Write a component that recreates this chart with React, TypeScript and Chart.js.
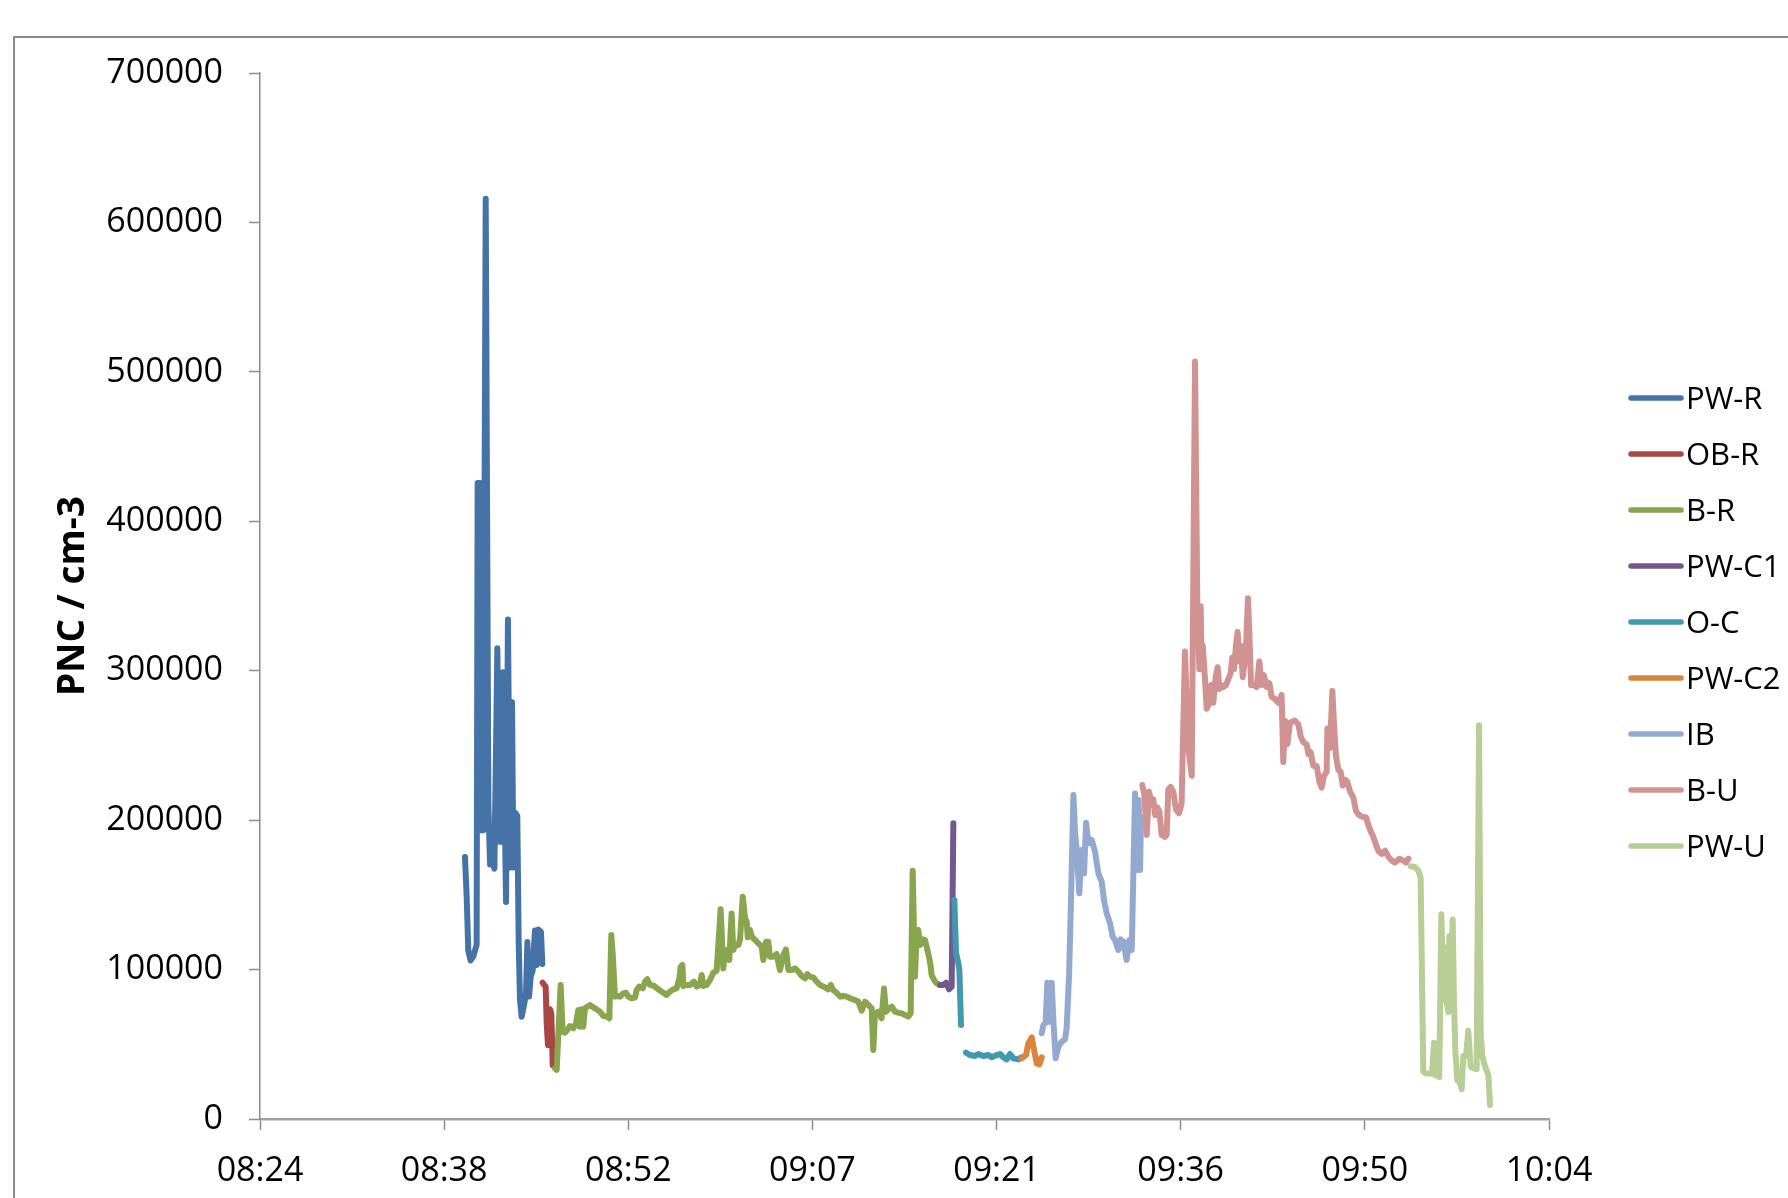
import { useEffect, useRef } from "react";
import { Chart, registerables } from "chart.js";

Chart.register(...registerables);

// Particle number concentration along the route; times are minutes after 08:00.
const SERIES_NAMES = ["PW-R", "OB-R", "B-R", "PW-C1", "O-C", "PW-C2", "IB", "B-U", "PW-U"];
const SERIES_COLORS = ["#4572A7", "#AA4643", "#89A54E", "#71588F", "#4198AF", "#DB843D", "#93A9CF", "#D19392", "#B9CD96"];

const X_TICK_MINUTES = [24, 38.4, 52.8, 67.2, 81.6, 96, 110.4, 124.8];
const X_TICK_LABELS = ["08:24", "08:38", "08:52", "09:07", "09:21", "09:36", "09:50", "10:04"];
const Y_MAX = 700000;
const Y_STEP = 100000;

const PW_R_T = [40.03, 40.16, 40.29, 40.47, 40.68, 40.94, 41.02, 41.2, 41.28, 41.46, 41.65, 41.86, 41.99, 42.17, 42.33, 42.56, 42.72, 42.85, 42.98, 43.24, 43.39, 43.55, 43.71, 43.81, 43.97, 44.12, 44.23, 44.33, 44.46, 44.64, 44.8, 44.91, 45.04, 45.17, 45.32, 45.5, 45.63, 45.77, 45.97, 46.08];
const PW_R_V = [175300, 149100, 112600, 106100, 108800, 116500, 425700, 425700, 193300, 193300, 615800, 210600, 170300, 172200, 167600, 315000, 185600, 185600, 298900, 145300, 334300, 168300, 278900, 168300, 204800, 202900, 118400, 80000, 68500, 76200, 83800, 118400, 81900, 95300, 99200, 126100, 103000, 126800, 125300, 103800];

const OB_R_T = [46.1, 46.34, 46.42, 46.52, 46.68, 46.78, 46.89];
const OB_R_V = [91200, 88500, 64000, 49500, 73400, 70700, 36100];

const B_R_T = [47.07, 47.2, 47.51, 47.67, 47.85, 48.03, 48.24, 48.5, 48.71, 48.89, 49.02, 49.15, 49.28, 49.41, 49.68, 49.81, 50.07, 50.33, 50.59, 50.85, 51.11, 51.32, 51.47, 51.58, 51.76, 51.94, 52.15, 52.41, 52.62, 52.8, 53.06, 53.32, 53.46, 53.66, 53.93, 54.11, 54.29, 54.5, 54.81, 55.15, 55.54, 55.8, 56.06, 56.32, 56.58, 56.79, 56.9, 57.03, 57.11, 57.37, 57.63, 57.94, 58.15, 58.41, 58.54, 58.67, 58.93, 59.19, 59.45, 59.71, 60.02, 60.23, 60.36, 60.57, 60.7, 60.88, 61.01, 61.17, 61.41, 61.54, 61.75, 61.93, 62.06, 62.14, 62.32, 62.45, 62.71, 62.97, 63.23, 63.36, 63.57, 63.75, 63.88, 64.14, 64.4, 64.66, 64.92, 65.13, 65.32, 65.58, 65.84, 66.1, 66.36, 66.62, 66.8, 67.01, 67.27, 67.53, 67.79, 68.18, 68.44, 68.63, 68.83, 69.09, 69.36, 69.62, 69.88, 70.14, 70.53, 70.79, 71.05, 71.31, 71.57, 71.83, 71.96, 72.09, 72.35, 72.61, 72.8, 72.95, 73.21, 73.4, 73.66, 73.92, 74.18, 74.44, 74.7, 74.88, 75.04, 75.22, 75.35, 75.48, 75.61, 75.82, 76.0, 76.19, 76.34, 76.45, 76.52, 76.71, 76.92, 77.18];
const B_R_V = [33900, 32800, 89700, 58400, 57800, 59600, 62200, 60700, 64000, 72900, 61800, 73400, 61800, 74100, 75600, 76300, 74700, 73400, 71800, 68900, 68500, 67400, 123100, 110900, 81900, 82300, 81900, 84100, 84500, 81900, 80800, 81200, 86300, 88600, 87400, 91900, 93500, 89700, 89000, 86800, 84500, 83000, 85200, 86800, 87400, 94100, 101900, 103100, 89000, 89700, 89700, 91900, 88600, 89700, 96400, 89000, 89700, 93000, 97900, 99300, 140300, 100800, 113100, 113100, 106400, 137600, 113100, 116400, 116400, 120200, 148800, 134300, 132100, 121600, 126500, 122000, 119800, 117600, 115300, 106400, 118700, 118700, 108600, 108600, 110400, 99700, 109700, 113500, 99700, 99700, 100800, 98600, 95700, 94100, 97000, 95200, 94800, 91900, 89700, 88100, 86800, 89700, 86300, 84500, 81900, 82300, 81900, 80800, 79600, 78500, 72500, 78500, 76300, 74100, 46200, 70700, 71800, 67400, 87400, 71800, 74100, 75200, 71800, 71100, 70700, 69600, 68500, 70700, 166200, 95200, 124200, 126500, 116400, 120200, 119800, 113100, 107500, 101900, 96400, 93000, 90800, 89700];

const PW_C1_T = [77.18, 77.44, 77.65, 77.88, 78.09, 78.22];
const PW_C1_V = [89700, 89700, 91200, 86800, 88600, 197900];

const O_C_T = [78.3, 78.43, 78.61, 78.69, 78.82, 79.0, 79.21, 79.52, 79.92, 80.18, 80.57, 80.96, 81.22, 81.61, 81.87, 82.13, 82.39, 82.65, 82.91, 83.3, 83.56];
const O_C_V = [146600, 110900, 104200, 99700, 62900, null, 44400, 42800, 42200, 43500, 42200, 42800, 41300, 42800, 43500, 41300, 39900, 43500, 40600, 39900, 41300];

const PW_C2_T = [83.56, 83.9, 84.09, 84.35, 84.53, 84.74, 84.95, 85.13];
const PW_C2_V = [40600, 42800, 50600, 54600, 46200, 37200, 36600, 41300];

const IB_T = [85.13, 85.26, 85.44, 85.57, 85.73, 85.91, 86.04, 86.22, 86.43, 86.69, 86.95, 87.08, 87.27, 87.42, 87.61, 87.74, 87.87, 88.07, 88.26, 88.44, 88.6, 88.78, 89.04, 89.3, 89.56, 89.82, 90.0, 90.21, 90.47, 90.68, 90.86, 91.12, 91.31, 91.51, 91.77, 91.98, 92.17, 92.43, 92.61, 92.71, 92.82, 92.9];
const IB_V = [57300, 62900, 64500, 91200, 65100, 91200, 66200, 40600, 48400, 51700, 53300, 60700, 96400, 146600, 216800, 191200, 180000, 151000, 180000, 164400, 198300, 184500, 186700, 178900, 164400, 158800, 146600, 137600, 131000, 122000, 119800, 113100, 120200, 118700, 106400, 119800, 113100, 217900, 166600, 213500, 166600, 202300];

const B_U_T = [93.0, 93.16, 93.34, 93.52, 93.68, 93.86, 94.01, 94.17, 94.33, 94.51, 94.77, 94.9, 95.03, 95.21, 95.42, 95.63, 95.87, 96.07, 96.33, 96.6, 96.86, 97.12, 97.3, 97.46, 97.56, 97.64, 97.72, 97.85, 98.03, 98.16, 98.37, 98.55, 98.73, 98.89, 99.02, 99.2, 99.33, 99.54, 99.72, 99.9, 100.04, 100.17, 100.32, 100.45, 100.58, 100.71, 100.85, 100.98, 101.11, 101.26, 101.37, 101.5, 101.73, 101.94, 102.15, 102.33, 102.51, 102.72, 102.93, 103.11, 103.37, 103.63, 103.89, 104.02, 104.16, 104.34, 104.55, 104.94, 105.2, 105.38, 105.59, 105.85, 105.98, 106.16, 106.37, 106.63, 106.84, 107.02, 107.21, 107.41, 107.47, 107.67, 107.86, 107.99, 108.14, 108.33, 108.51, 108.67, 108.85, 109.03, 109.24, 109.5, 109.71, 109.97, 110.28, 110.49, 110.67, 110.85, 111.06, 111.27, 111.45, 111.71, 111.98, 112.24, 112.5, 112.76, 113.1, 113.41, 113.62, 113.8];
const B_U_V = [223500, 216500, 190100, 219100, 212500, 213800, 203300, 208600, 205900, 190100, 188800, 190100, 220400, 222300, 219100, 207200, 204600, 211200, 312800, 248200, 229700, 506900, 343200, 301000, 343200, 301000, 316800, 301000, 274600, 277000, 290400, 278500, 295700, 302300, 287800, 290400, 289100, 290400, 294400, 298300, 308900, 301000, 316800, 326000, 306200, 316800, 295700, 304900, 316800, 348500, 324700, 290400, 290400, 289100, 306200, 290400, 297000, 289100, 291700, 282500, 281200, 278500, 283800, 238900, 266600, 250800, 265300, 266600, 264000, 256100, 252100, 250800, 244200, 245500, 236300, 236300, 225700, 221800, 229700, 232300, 261400, 248200, 286400, 264000, 242900, 233600, 232300, 223100, 227000, 225700, 219100, 215200, 205900, 203300, 202000, 202000, 196700, 192700, 188800, 183500, 179500, 177400, 179500, 175600, 172900, 171600, 174200, 172900, 171600, 174200];

const PW_U_T = [113.98, 114.32, 114.58, 114.76, 114.97, 115.23, 115.49, 115.65, 115.81, 115.91, 116.06, 116.22, 116.38, 116.54, 116.67, 116.8, 116.93, 117.01, 117.14, 117.27, 117.37, 117.48, 117.63, 117.84, 117.97, 118.1, 118.31, 118.49, 118.67, 118.88, 119.14, 119.33, 119.46, 119.59, 119.8, 120.06, 120.19];
const PW_U_V = [169100, 168600, 166300, 161600, 31600, 30400, 30400, 30400, 51100, 29300, 29300, 28100, 137000, 79600, 114800, 78500, 71500, 122300, 100700, 133500, 78500, 44500, 25800, 24600, 19900, 42200, 42200, 59000, 35200, 34000, 33300, 263500, 56200, 42200, 35200, 29300, 9400];

const SERIES_TIMES = [PW_R_T, OB_R_T, B_R_T, PW_C1_T, O_C_T, PW_C2_T, IB_T, B_U_T, PW_U_T];
const SERIES_VALUES = [PW_R_V, OB_R_V, B_R_V, PW_C1_V, O_C_V, PW_C2_V, IB_V, B_U_V, PW_U_V];

const FONT = "'Open Sans', 'DejaVu Sans', sans-serif";
const AXIS_GREY = "#8c8c8c";

// Outer chart-area frame (runs off the right and bottom of the page)
const framePlugin = {
  id: "outerFrame",
  beforeDraw(chart: any) {
    const ctx = chart.ctx;
    ctx.save();
    ctx.strokeStyle = "#8a8a8a";
    ctx.lineWidth = 2;
    ctx.beginPath();
    ctx.moveTo(14, chart.height + 5);
    ctx.lineTo(14, 37);
    ctx.lineTo(chart.width + 5, 37);
    ctx.stroke();
    ctx.restore();
  },
};

// Vertical legend on the right: a short line sample followed by the series name
const sideLegendPlugin = {
  id: "sideLegend",
  afterDraw(chart: any) {
    const ctx = chart.ctx;
    const size = 31;
    const x0 = chart.chartArea.right + 82;
    const lineLen = 50;
    const top = 398;
    const gap = 56;
    ctx.save();
    ctx.font = `${size}px ${FONT}`;
    ctx.textBaseline = "alphabetic";
    ctx.textAlign = "left";
    chart.data.datasets.forEach((ds: any, i: number) => {
      const y = top + i * gap;
      ctx.strokeStyle = ds.borderColor;
      ctx.lineWidth = 5.5;
      ctx.lineCap = "round";
      ctx.beginPath();
      ctx.moveTo(x0, y);
      ctx.lineTo(x0 + lineLen, y);
      ctx.stroke();
      ctx.fillStyle = "#000";
      ctx.fillText(ds.label, x0 + lineLen + 5, y + size * 0.357);
    });
    ctx.restore();
  },
};

export default function App() {
  const canvasRef = useRef<HTMLCanvasElement | null>(null);

  useEffect(() => {
    if (!canvasRef.current) return;
    const datasets = SERIES_NAMES.map((name, i) => ({
      label: name,
      data: SERIES_TIMES[i].map((t, j) => ({ x: t, y: SERIES_VALUES[i][j] })),
      borderColor: SERIES_COLORS[i],
      backgroundColor: SERIES_COLORS[i],
      borderWidth: 6,
      pointRadius: 0,
      tension: 0,
      spanGaps: false,
      fill: false,
      borderJoinStyle: "round" as const,
      borderCapStyle: "round" as const,
      order: SERIES_NAMES.length - i,
    }));

    const chart = new Chart(canvasRef.current, {
      type: "line",
      data: { datasets },
      options: {
        animation: false,
        responsive: false,
        events: [],
        layout: { padding: { top: 73, right: 239, bottom: 0, left: 0 } },
        plugins: {
          legend: { display: false },
          tooltip: { enabled: false },
        },
        scales: {
          x: {
            type: "linear",
            min: X_TICK_MINUTES[0],
            max: X_TICK_MINUTES[X_TICK_MINUTES.length - 1],
            afterBuildTicks: (axis: any) => {
              axis.ticks = X_TICK_MINUTES.map((v) => ({ value: v }));
            },
            afterFit: (scale: any) => {
              scale.height = 79;
            },
            grid: {
              drawOnChartArea: false,
              drawTicks: true,
              tickLength: 11,
              tickColor: AXIS_GREY,
              tickWidth: 1.5,
            },
            border: { display: true, color: "#a0a0a0", width: 2.5 },
            ticks: {
              autoSkip: false,
              maxRotation: 0,
              padding: 21,
              color: "#000",
              font: { family: FONT, size: 34 },
              callback: (_v: any, i: number) => X_TICK_LABELS[i],
            },
          },
          y: {
            min: 0,
            max: Y_MAX,
            afterFit: (scale: any) => {
              scale.width = 260;
            },
            grid: {
              drawOnChartArea: false,
              drawTicks: true,
              tickLength: 11,
              tickColor: AXIS_GREY,
              tickWidth: 1.5,
            },
            border: { display: true, color: AXIS_GREY, width: 1.5 },
            ticks: {
              stepSize: Y_STEP,
              padding: 26,
              color: "#000",
              font: { family: FONT, size: 34 },
              callback: (v: any) => String(v),
            },
            title: {
              display: true,
              text: "PNC / cm-3",
              color: "#000",
              font: { family: FONT, size: 37, weight: "bold" },
              padding: { top: 51, bottom: 0 },
            },
          },
        },
      },
      plugins: [framePlugin, sideLegendPlugin],
    });

    return () => chart.destroy();
  }, []);

  return (
    <div style={{ position: "absolute", left: 0, top: 0, width: 1788, height: 1198, background: "#fff" }}>
      <canvas ref={canvasRef} width={1788} height={1198} style={{ display: "block" }} />
    </div>
  );
}
